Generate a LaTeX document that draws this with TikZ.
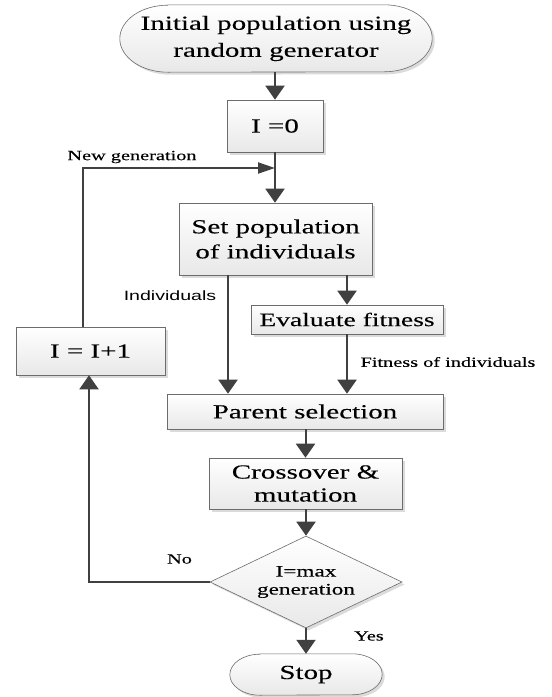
\documentclass[tikz,border=0pt]{standalone}
\usepackage{fontspec}
\setmainfont{Liberation Serif}[FakeStretch=1.45, FakeBold=0.15]
\setsansfont{Liberation Sans}[FakeStretch=1.45]
\usetikzlibrary{arrows.meta,shapes.geometric,shadows,backgrounds}

\begin{document}
\begin{tikzpicture}[x=1pt, y=-1pt,
		shade/.style = {draw=gray!85!black, line width=0.6pt, top color=white, bottom color=gray!18,
			drop shadow={shadow xshift=2.5pt, shadow yshift=-2.5pt, fill=gray!40, opacity=0.7}},
		box/.style  = {shade, rectangle, align=center, inner sep=0pt, font=\fontsize{20}{25}\selectfont},
		term/.style = {align=center, inner sep=0pt, font=\fontsize{20}{27}\selectfont},
		dec/.style  = {box, diamond, aspect=2, font=\fontsize{16}{18}\selectfont},
		lab/.style  = {inner sep=0pt, font=\fontsize{14}{16}\selectfont},
		line/.style = {draw=black!75, line width=2pt},
		arr/.style  = {line, -{Triangle[width=19pt,length=14pt]}},
		harr/.style = {line, -{Triangle[width=11pt,length=17pt]}}]
		
		% the main column of steps
		\node[term, minimum width=312pt, minimum height=67pt] (start) at (276,38.5) {Initial population using\\random generator};
		\node[box, minimum width=96pt, minimum height=52pt] (i0) at (275,126) {I =0};
		\node[box, minimum width=193pt, minimum height=72pt] (setpop) at (275.5,239) {Set population\\of individuals};
		\node[box, minimum width=192pt, minimum height=29pt, font=\fontsize{19}{23}\selectfont] (eval) at (347,319.5) {Evaluate fitness};
		\node[box, minimum width=276pt, minimum height=35pt] (parent) at (305,411.5) {Parent selection};
		\node[box, minimum width=193pt, minimum height=51pt, font=\fontsize{20}{23}\selectfont] (cross) at (305.5,483.5) {Crossover \&\\mutation};
		\node[dec, minimum width=192pt, minimum height=92pt] (maxgen) at (306,582) {I=max\\generation};
		\node[term, minimum width=152pt, minimum height=41pt] (stop) at (306,674.5) {Stop};
		
		% the counter on the left
		\node[box, minimum width=149pt, minimum height=48pt] (inc) at (90.5,351) {I = I+1};
		
		% start and stop capsules, behind their texts
		\begin{scope}[on background layer]
		\fill[white] (0,0) rectangle (552,697);
		\foreach \t/\rx/\ry in {start/48/33.5, stop/30/20.5}
		\path[shade] ([xshift=\rx pt]\t.north west) -- ([xshift=-\rx pt]\t.north east)
			arc[start angle=90, end angle=-90, x radius=\rx pt, y radius=\ry pt]
			-- ([xshift=\rx pt]\t.south west)
			arc[start angle=-90, end angle=-270, x radius=\rx pt, y radius=\ry pt] -- cycle;
		\end{scope}
		
		% labels of the connectors
		\node[lab] (newgen) at (132,157) {New generation};
		\node[lab, font=\sffamily\fontsize{13.5}{16}\selectfont] (indiv) at (170,296) {Individuals};
		\node[lab] (fitind) at (448,362) {Fitness of individuals};
		\node[lab] (no) at (179.5,559) {No};
		\node[lab] (yes) at (369,636) {Yes};
		
		\coordinate (join) at (275,168);
		\coordinate (xl) at (228,0);
		
		% arrows down the columns
		\draw[arr] (start.south -| i0) -- (i0.north);
		\draw[arr] (i0.south) -- (i0.south |- setpop.north);
		\draw[arr] (setpop.south -| xl) -- (parent.north -| xl);
		\draw[arr] (setpop.south -| eval) -- (eval.north);
		\draw[arr] (eval.south) -- (eval.south |- parent.north);
		\foreach \a/\b in {parent/cross, cross/maxgen, maxgen/stop}
		\draw[arr] (\a.south -| \b) -- (\b.north);
		
		% the loop back to a new generation
		\draw[arr] (maxgen.west) -| ([xshift=-1.5pt]inc.south);
		\draw[harr] ([xshift=-7.5pt]inc.north) |- (join);
		
		\useasboundingbox (0,0) rectangle (552,697);
\end{tikzpicture}
\end{document}
